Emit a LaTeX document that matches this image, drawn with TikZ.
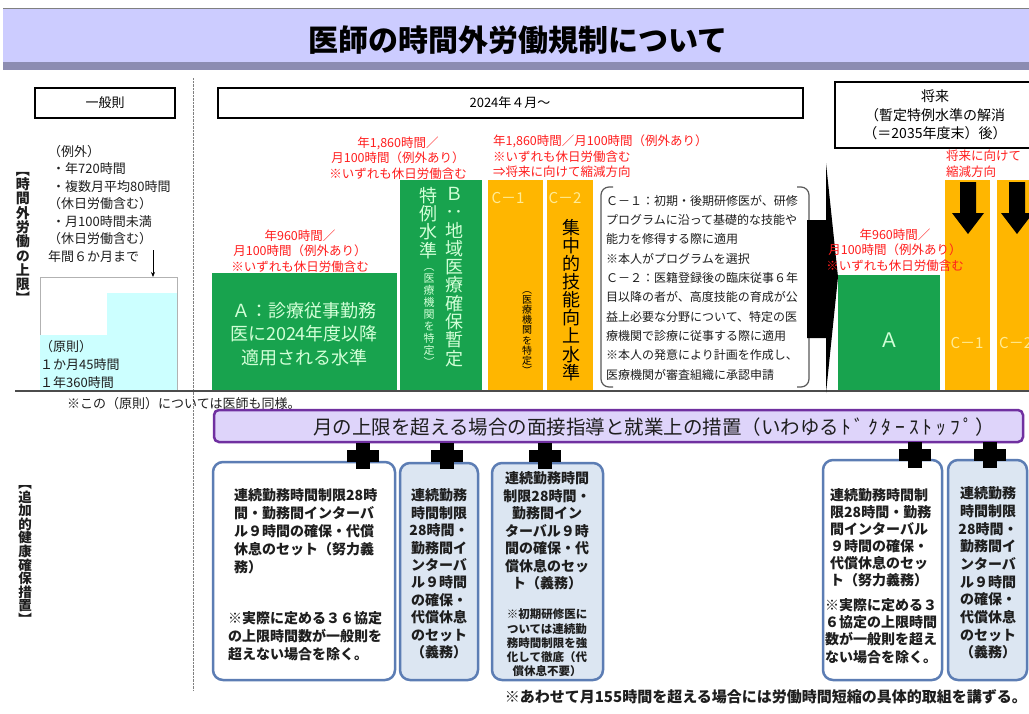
\documentclass[tikz,border=0pt]{standalone}
\usepackage{fontspec}
\setmainfont{Noto Sans CJK JP}
\newfontfamily\vfont[RawFeature=+vert]{Noto Sans CJK JP}
\usetikzlibrary{arrows.meta}
\definecolor{greenc}{RGB}{24,163,78}
\definecolor{orangec}{RGB}{255,182,0}
\definecolor{paleg}{RGB}{210,255,215}
\definecolor{paley}{RGB}{255,236,150}
\definecolor{redc}{RGB}{255,30,30}
\definecolor{titlec}{RGB}{204,204,255}
\definecolor{bandc}{RGB}{140,140,178}
\definecolor{purplec}{RGB}{112,48,160}
\definecolor{lavc}{RGB}{222,212,250}
\definecolor{boxc}{RGB}{92,125,180}
\definecolor{lblue}{RGB}{220,230,242}
\definecolor{cyanc}{RGB}{204,255,255}
\definecolor{txtc}{RGB}{30,30,30}
\makeatletter
\newcommand\vstack[1]{\vbox{\lineskiplimit=-\maxdimen\@tfor\vs@c:=#1\do{\hbox to 1em{\hss\vs@c\hss}}}}
\newcommand\hwide[1]{\@tfor\hw@c:=#1\do{\hbox to 0.7em{\hss\hw@c\hss}}}
\makeatother
\tikzset{
  lbl/.style={inner sep=0pt, text=txtc, font=\fontsize{13}{17.5}\selectfont},
  redtxt/.style={inner sep=0pt, text=redc, font=\fontsize{12.5}{15.5}\selectfont, align=center},
  headbox/.style={draw=black, line width=2pt, fill=white, inner sep=0pt, font=\fontsize{13}{19}\selectfont},
  measbox/.style={draw=boxc, line width=2.5pt, rounded corners=10pt},
  meastxt/.style={inner sep=0pt, text=txtc, font=\bfseries\fontsize{14}{18}\selectfont},
  smalltxt/.style={inner sep=0pt, text=txtc, font=\bfseries\fontsize{11.5}{14.2}\selectfont, align=center},
  vlab/.style={inner sep=0pt, text=txtc},
  plus/.style={fill=black},
}
\newcommand\plusat[2]{%
  \fill[plus] (#1-16,#2-6) rectangle (#1+16,#2+6);
  \fill[plus] (#1-7,#2-13) rectangle (#1+7,#2+13);}
\begin{document}
\begin{tikzpicture}[x=1pt,y=-1pt]
\useasboundingbox (0,0) rectangle (1029,713);
\fill[white] (0,0) rectangle (1029,713);
% title
\fill[titlec] (3,9) rectangle (1029,62);
\fill[bandc] (3,62) rectangle (1029,70);
\draw[gray] (3,8) -- (1029,8);
\node[inner sep=0pt, font=\bfseries\fontsize{30}{34}\selectfont] (title) at (518,40) {医師の時間外労働規制について};
% separator
\draw[densely dotted, gray] (193,78) -- (193,690);
% head boxes
\node[headbox, minimum width=140pt, minimum height=30pt] (ippan) at (105,103) {一般則};
\node[headbox, minimum width=585pt, minimum height=30pt] (y2024) at (510,103) {2024年４月～};
\node[headbox, minimum width=200pt, minimum height=66pt, align=center, font=\fontsize{14}{18.5}\selectfont] (future) at (935,115) {将来\\（暫定特例水準の解消\\（＝2035年度末）後）};
% left labels
\node[vlab, font=\vfont\bfseries\fontsize{14}{14.3}\selectfont] (lab1) at (23,238) {\vstack{【時間外労働の上限】}};
\node[vlab, font=\vfont\bfseries\fontsize{13.5}{13.6}\selectfont] (lab2) at (25,555) {\vstack{【追加的健康確保措置】}};
% general rule
\node[lbl, anchor=north west, align=left] (exc) at (48,145) {（例外）\\\hspace{4pt}・年720時間\\\hspace{4pt}・複数月平均80時間\\（休日労働含む）\\\hspace{4pt}・月100時間未満\\（休日労働含む）\\年間６か月まで};
\draw[gray!60, line width=0.8pt] (40,277) rectangle (177,391);
\fill[cyanc] (107,293) rectangle (177,391);
\fill[cyanc] (40,335) rectangle (107,391);
\coordinate (arrs) at (153,250);
\coordinate (arre) at (153,277);
\draw[line width=0.8pt, -{Stealth[length=5pt,width=4pt]}] (arrs) -- (arre);
\node[lbl, anchor=north west, align=left, font=\fontsize{13}{18}\selectfont] (gen) at (40,340) {（原則）\\１か月45時間\\１年360時間};
\draw[line width=1.2pt, gray!60!black] (15,391) -- (1029,391);
\node[lbl, anchor=west] (note1) at (67,404) {※この（原則）については医師も同様。};
% A
\fill[greenc] (212,273) rectangle (397,390);
\node[inner sep=0pt, text=paleg, align=center, font=\fontsize{18}{23.5}\selectfont] (Atxt) at (304,334) {Ａ：診療従事勤務\\医に2024年度以降\\適用される水準};
\node[redtxt] (Ared) at (300,251) {年960時間／\\月100時間（例外あり）\\※いずれも休日労働含む};
% B
\fill[greenc] (400,180) rectangle (482,390);
\node[vlab, text=paleg, anchor=north, font=\vfont\fontsize{18}{18.3}\selectfont] (Bc1) at (454,187) {\vstack{Ｂ：地域医療確保暫定}};
\node[vlab, text=paleg, anchor=north, font=\vfont\fontsize{18}{18.3}\selectfont] (Bc2) at (428,187) {\vstack{特例水準}};
\node[vlab, text=paleg, anchor=north, font=\vfont\fontsize{11}{12}\selectfont] (Bc3) at (429,268) {\vstack{（医療機関を特定）}};
\node[redtxt] (Bred) at (398,158) {年1,860時間／\\月100時間（例外あり）\\※いずれも休日労働含む};
% C
\fill[orangec] (488,180) rectangle (543,390);
\fill[orangec] (547,180) rectangle (593,390);
\node[inner sep=0pt, text=paley, font=\fontsize{15}{18}\selectfont] (c1lab) at (508,198) {C－1};
\node[inner sep=0pt, text=paley, font=\fontsize{15}{18}\selectfont] (c2lab) at (565,198) {C－2};
\node[vlab, text=black, anchor=north, font=\vfont\fontsize{18}{18.1}\selectfont] (Cc1) at (571,219) {\vstack{集中的技能向上水準}};
\node[vlab, text=black, anchor=north, font=\vfont\fontsize{10}{10.2}\selectfont] (Cc2) at (527,291) {\vstack{（医療機関を特定）}};
\node[redtxt, align=left, anchor=north west] (Cred) at (493,135) {年1,860時間／月100時間（例外あり）\\※いずれも休日労働含む\\⇒将来に向けて縮減方向};
% explanation
\draw[gray!70!black, line width=1.2pt, rounded corners=8pt] (613,187) -- (601,187) -- (601,387) -- (613,387);
\draw[gray!70!black, line width=1.2pt, rounded corners=8pt] (797,187) -- (809,187) -- (809,387) -- (797,387);
\node[inner sep=0pt, text=txtc, anchor=north west, align=left, font=\fontsize{12}{19.3}\selectfont] (expl) at (606,195) {Ｃ－１：初期・後期研修医が、研修\\プログラムに沿って基礎的な技能や\\能力を修得する際に適用\\※本人がプログラムを選択\\Ｃ－２：医籍登録後の臨床従事６年\\目以降の者が、高度技能の育成が公\\益上必要な分野について、特定の医\\療機関で診療に従事する際に適用\\※本人の発意により計画を作成し、\\医療機関が審査組織に承認申請};
% big arrow
\fill[black] (807,220) -- (826,220) -- (826,163) -- (838,277) -- (826,393) -- (826,338) -- (807,338) -- cycle;
% future
\fill[greenc] (838,275) rectangle (940,390);
\fill[orangec] (945,180) rectangle (990,390);
\fill[orangec] (997,180) rectangle (1029,390);
\node[inner sep=0pt, text=paleg, font=\fontsize{20}{24}\selectfont] (Aftxt) at (889,340) {Ａ};
\node[redtxt] (Afred) at (895,250) {年960時間／\\月100時間（例外あり）\\※いずれも休日労働含む};
\node[inner sep=0pt, text=paley, font=\fontsize{15}{18}\selectfont] (fc1) at (967,343) {C－1};
\node[inner sep=0pt, text=paley, font=\fontsize{15}{18}\selectfont, anchor=west] (fc2) at (999,343) {C－2};
\fill[black] (960,182) -- (976,182) -- (976,213) -- (984,213) -- (968,234) -- (952,213) -- (960,213) -- cycle;
\fill[black] (1009,182) -- (1025,182) -- (1025,213) -- (1033,213) -- (1017,234) -- (1001,213) -- (1009,213) -- cycle;
\node[redtxt, align=left, anchor=north west, font=\fontsize{12.5}{16}\selectfont] (fred) at (946,150) {将来に向けて\\縮減方向};
% doctor stop bar
\node[draw=purplec, line width=2.5pt, fill=lavc, rounded corners=5pt, minimum width=809pt, minimum height=32pt, inner sep=0pt] (dstop) at (618.5,426) {};
\node[inner sep=0pt, anchor=west, text=txtc, font=\fontsize{19.5}{22}\selectfont] (dstoptxt) at (313,427) {月の上限を超える場合の面接指導と就業上の措置（いわゆる\hwide{ﾄﾞｸﾀｰｽﾄｯﾌﾟ}）};
% measure boxes
\draw[measbox, fill=white] (213,462) rectangle (395,680);
\draw[measbox, fill=lblue] (400,463) rectangle (478,680);
\draw[measbox, fill=lblue] (492,463) rectangle (603,680);
\draw[measbox, fill=white] (823,460) rectangle (942,680);
\draw[measbox, fill=lblue] (948,460) rectangle (1027,680);
\plusat{363}{456}
\plusat{447}{456}
\plusat{545}{456}
\plusat{915}{455}
\plusat{990}{455}
\node[meastxt, anchor=north west, align=left] (m1a) at (234,488) {連続勤務時間制限28時\\間・勤務間インターバ\\ル９時間の確保・代償\\休息のセット（努力義\\務）};
\node[meastxt, anchor=north west, align=left] (m1b) at (228,611) {※実際に定める３６協定\\の上限時間数が一般則を\\超えない場合を除く。};
\node[meastxt, align=center, font=\bfseries\fontsize{14}{17.4}\selectfont] (m2) at (439,574) {連続勤務\\時間制限\\28時間・\\勤務間イ\\ンターバ\\ル９時間\\の確保・\\代償休息\\のセット\\（義務）};
\node[meastxt, align=center, font=\bfseries\fontsize{14}{17.5}\selectfont] (m3a) at (547,531) {連続勤務時間\\制限28時間・\\勤務間イン\\ターバル９時\\間の確保・代\\償休息のセッ\\ト（義務）};
\node[smalltxt] (m3b) at (547,643) {※初期研修医に\\ついては連続勤\\務時間制限を強\\化して徹底（代\\償休息不要）};
\node[meastxt, anchor=north west, align=left, font=\bfseries\fontsize{14}{17.1}\selectfont] (m4a) at (830,488) {連続勤務時間制\\限28時間・勤務\\間インターバル\\９時間の確保・\\代償休息のセッ\\ト（努力義務）};
\node[meastxt, anchor=north west, align=left, font=\bfseries\fontsize{14}{17.3}\selectfont] (m4b) at (825,598) {※実際に定める３\\６協定の上限時間\\数が一般則を超え\\ない場合を除く。};
\node[meastxt, align=center, font=\bfseries\fontsize{14}{17.7}\selectfont] (m5) at (988,573) {連続勤務\\時間制限\\28時間・\\勤務間イ\\ンターバ\\ル９時間\\の確保・\\代償休息\\のセット\\（義務）};
% footer
\node[inner sep=0pt, anchor=east, text=txtc, font=\bfseries\fontsize{15}{18}\selectfont] (foot) at (1027,697) {※あわせて月155時間を超える場合には労働時間短縮の具体的取組を講ずる。};
\end{tikzpicture}
\end{document}
